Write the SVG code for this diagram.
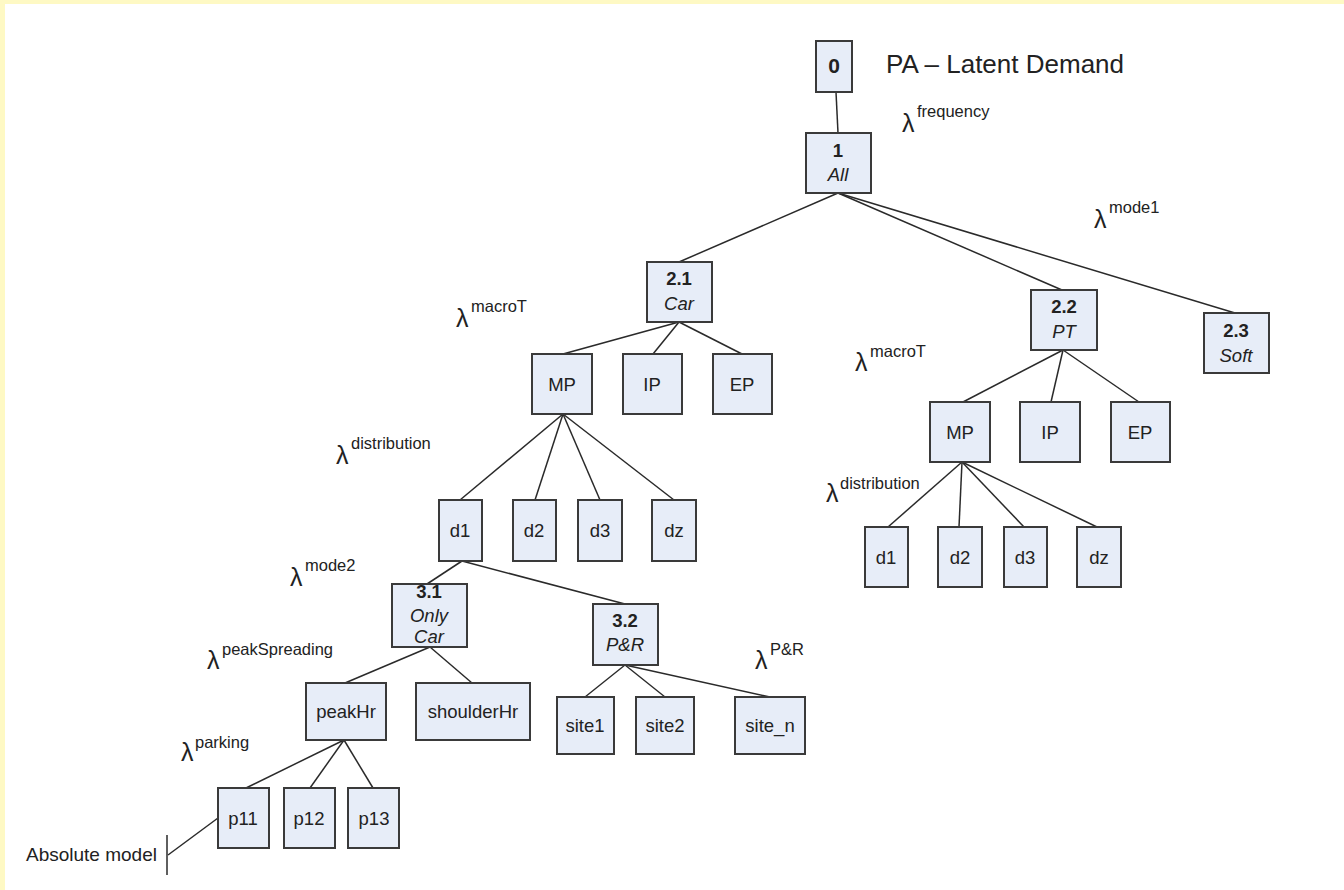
<svg xmlns="http://www.w3.org/2000/svg" width="1344" height="890" viewBox="0 0 1344 890">
<style>
.n rect{fill:#e7edf8;stroke:#3a3a3a;stroke-width:2}
.n text{font-family:"Liberation Sans",Arial,sans-serif;font-size:18.5px;fill:#222;text-anchor:middle}
.b{font-weight:bold}
.i{font-style:italic}
#edges line{stroke:#2a2a2a;stroke-width:1.5}
.lam{font-family:"Liberation Sans",Arial,sans-serif;font-size:25px;fill:#222}
.sup{font-size:16.5px}
.t{font-family:"Liberation Sans",Arial,sans-serif;fill:#222}
</style>
<rect x="0" y="0" width="1344" height="890" fill="#ffffff"/>
<rect x="0" y="0" width="1344" height="4" fill="#fef9c4"/>
<rect x="0" y="0" width="5" height="890" fill="#fef9c4"/>
<g id="edges">
<line x1="836" y1="92" x2="838" y2="133"/>
<line x1="838" y1="193" x2="679" y2="262"/>
<line x1="838" y1="193" x2="1062" y2="290"/>
<line x1="838" y1="193" x2="1235" y2="313"/>
<line x1="679" y1="322" x2="563" y2="354"/>
<line x1="679" y1="322" x2="653" y2="354"/>
<line x1="679" y1="322" x2="742" y2="354"/>
<line x1="1063" y1="350" x2="963" y2="402"/>
<line x1="1063" y1="350" x2="1051" y2="402"/>
<line x1="1063" y1="350" x2="1139" y2="402"/>
<line x1="962" y1="462" x2="888" y2="527"/>
<line x1="962" y1="462" x2="959" y2="527"/>
<line x1="962" y1="462" x2="1024" y2="527"/>
<line x1="962" y1="462" x2="1097" y2="527"/>
<line x1="563" y1="414" x2="460" y2="500"/>
<line x1="563" y1="414" x2="535" y2="500"/>
<line x1="563" y1="414" x2="600" y2="500"/>
<line x1="563" y1="414" x2="674" y2="500"/>
<line x1="462" y1="561" x2="427" y2="584"/>
<line x1="462" y1="561" x2="625" y2="604"/>
<line x1="430" y1="647" x2="345" y2="683"/>
<line x1="430" y1="647" x2="472" y2="683"/>
<line x1="625" y1="665" x2="585" y2="697"/>
<line x1="625" y1="665" x2="665" y2="697"/>
<line x1="625" y1="665" x2="770" y2="697"/>
<line x1="344" y1="740" x2="246" y2="788"/>
<line x1="344" y1="740" x2="310" y2="788"/>
<line x1="344" y1="740" x2="373" y2="788"/>
<line x1="168" y1="855" x2="218" y2="818"/>
<line x1="167" y1="835" x2="167" y2="875"/>
</g>
<g id="n0" class="n"><rect x="816" y="41" width="36" height="51"/><text x="834" y="73" class="b" style="font-size:21px">0</text></g>
<g id="n1" class="n"><rect x="806" y="133" width="65" height="60"/><text x="838" y="157" class="b">1</text><text x="838" y="181" class="i">All</text></g>
<g id="n21" class="n"><rect x="647" y="262" width="65" height="60"/><text x="679" y="285" class="b">2.1</text><text x="679" y="310" class="i">Car</text></g>
<g id="n22" class="n"><rect x="1031" y="290" width="66" height="60"/><text x="1064" y="313" class="b">2.2</text><text x="1064" y="338" class="i">PT</text></g>
<g id="n23" class="n"><rect x="1204" y="313" width="65" height="60"/><text x="1236" y="337" class="b">2.3</text><text x="1236" y="362" class="i">Soft</text></g>
<g id="carMP" class="n"><rect x="532" y="354" width="60" height="60"/><text x="562" y="391">MP</text></g>
<g id="carIP" class="n"><rect x="623" y="354" width="59" height="60"/><text x="652" y="391">IP</text></g>
<g id="carEP" class="n"><rect x="713" y="354" width="59" height="60"/><text x="742" y="391">EP</text></g>
<g id="ptMP" class="n"><rect x="930" y="402" width="60" height="60"/><text x="960" y="439">MP</text></g>
<g id="ptIP" class="n"><rect x="1020" y="402" width="60" height="60"/><text x="1050" y="439">IP</text></g>
<g id="ptEP" class="n"><rect x="1111" y="402" width="59" height="60"/><text x="1140" y="439">EP</text></g>
<g id="ptd1" class="n"><rect x="865" y="527" width="43" height="60"/><text x="886" y="564">d1</text></g>
<g id="ptd2" class="n"><rect x="938" y="527" width="44" height="60"/><text x="960" y="564">d2</text></g>
<g id="ptd3" class="n"><rect x="1004" y="527" width="43" height="60"/><text x="1025" y="564">d3</text></g>
<g id="ptdz" class="n"><rect x="1077" y="527" width="44" height="60"/><text x="1099" y="564">dz</text></g>
<g id="card1" class="n"><rect x="439" y="500" width="43" height="61"/><text x="460" y="537">d1</text></g>
<g id="card2" class="n"><rect x="513" y="500" width="43" height="61"/><text x="534" y="537">d2</text></g>
<g id="card3" class="n"><rect x="578" y="500" width="44" height="61"/><text x="600" y="537">d3</text></g>
<g id="cardz" class="n"><rect x="652" y="500" width="44" height="61"/><text x="674" y="537">dz</text></g>
<g id="n31" class="n"><rect x="392" y="584" width="75" height="63"/><text x="429" y="598" class="b">3.1</text><text x="429" y="622" class="i">Only</text><text x="429" y="643" class="i">Car</text></g>
<g id="n32" class="n"><rect x="593" y="604" width="65" height="61"/><text x="625" y="627" class="b">3.2</text><text x="625" y="651" class="i">P&amp;R</text></g>
<g id="peakHr" class="n"><rect x="306" y="683" width="80" height="57"/><text x="346" y="718">peakHr</text></g>
<g id="shoulderHr" class="n"><rect x="416" y="683" width="114" height="57"/><text x="473" y="718">shoulderHr</text></g>
<g id="site1" class="n"><rect x="557" y="697" width="57" height="57"/><text x="585" y="732">site1</text></g>
<g id="site2" class="n"><rect x="636" y="697" width="58" height="57"/><text x="665" y="732">site2</text></g>
<g id="siten" class="n"><rect x="735" y="697" width="70" height="57"/><text x="770" y="732">site_n</text></g>
<g id="p11" class="n"><rect x="218" y="788" width="51" height="60"/><text x="243" y="825">p11</text></g>
<g id="p12" class="n"><rect x="284" y="788" width="51" height="60"/><text x="309" y="825">p12</text></g>
<g id="p13" class="n"><rect x="348" y="788" width="51" height="60"/><text x="374" y="825">p13</text></g>
<g id="labels">
<text x="886" y="73" class="t" style="font-size:26px">PA – Latent Demand</text>
<text x="26" y="861" class="t" style="font-size:19px">Absolute model</text>
<text class="lam" x="902" y="132">λ<tspan class="sup" x="917" y="117">frequency</tspan></text>
<text class="lam" x="1094" y="228">λ<tspan class="sup" x="1109" y="213">mode1</tspan></text>
<text class="lam" x="456" y="327">λ<tspan class="sup" x="471" y="312">macroT</tspan></text>
<text class="lam" x="855" y="371">λ<tspan class="sup" x="870" y="357">macroT</tspan></text>
<text class="lam" x="336" y="464">λ<tspan class="sup" x="351" y="449">distribution</tspan></text>
<text class="lam" x="826" y="502">λ<tspan class="sup" x="840" y="489">distribution</tspan></text>
<text class="lam" x="290" y="586">λ<tspan class="sup" x="305" y="571">mode2</tspan></text>
<text class="lam" x="207" y="669">λ<tspan class="sup" x="222" y="655">peakSpreading</tspan></text>
<text class="lam" x="755" y="669">λ<tspan class="sup" x="770" y="655">P&amp;R</tspan></text>
<text class="lam" x="181" y="761">λ<tspan class="sup" x="195" y="748">parking</tspan></text>
</g>
</svg>
